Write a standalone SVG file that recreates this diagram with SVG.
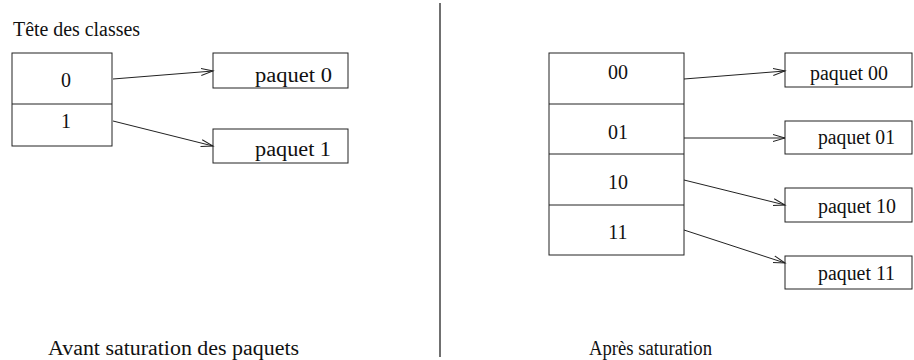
<svg xmlns="http://www.w3.org/2000/svg" width="914" height="360" viewBox="0 0 914 360">
<style>
text{font-family:"Liberation Serif","Times New Roman",serif;font-size:20px;fill:#111}
.box{fill:#fff;stroke:#222;stroke-width:1}
.conn{stroke:#222;stroke-width:1;fill:none;marker-end:url(#arr)}
.c{text-anchor:middle}
</style>
<defs>
<marker id="arr" markerWidth="14" markerHeight="10" refX="12" refY="5" orient="auto" markerUnits="userSpaceOnUse">
<path d="M0,1.5 L12,5 L0,8.5" fill="none" stroke="#222" stroke-width="1"/>
</marker>
</defs>
<rect width="914" height="360" fill="#fff"/>
<line x1="440" y1="3" x2="440" y2="357" stroke="#707070" stroke-width="2"/>
<text id="title" x="13" y="36" textLength="127" lengthAdjust="spacingAndGlyphs">Tête des classes</text>
<g id="left-table">
<rect class="box" x="12" y="53" width="100" height="93"/>
<line x1="12" y1="104" x2="112" y2="104" stroke="#222"/>
<text class="c" x="66" y="87">0</text>
<text class="c" x="66" y="128">1</text>
</g>
<g id="lp0"><rect class="box" x="213" y="53" width="135" height="35"/><text x="255" y="82" textLength="77" lengthAdjust="spacingAndGlyphs">paquet 0</text></g>
<g id="lp1"><rect class="box" x="213" y="129" width="135" height="34"/><text x="255" y="156" textLength="76" lengthAdjust="spacingAndGlyphs">paquet 1</text></g>
<g id="right-table">
<rect class="box" x="549" y="53" width="135" height="202"/>
<line x1="549" y1="104" x2="684" y2="104" stroke="#222"/>
<line x1="549" y1="154" x2="684" y2="154" stroke="#222"/>
<line x1="549" y1="205" x2="684" y2="205" stroke="#222"/>
<text class="c" x="618" y="79">00</text>
<text class="c" x="618" y="139">01</text>
<text class="c" x="618" y="189">10</text>
<text class="c" x="618" y="239">11</text>
</g>
<g id="rp00"><rect class="box" x="785" y="53" width="127" height="34"/><text x="810" y="80" textLength="78" lengthAdjust="spacingAndGlyphs">paquet 00</text></g>
<g id="rp01"><rect class="box" x="785" y="121" width="127" height="33"/><text x="818" y="144" textLength="77" lengthAdjust="spacingAndGlyphs">paquet 01</text></g>
<g id="rp10"><rect class="box" x="785" y="188" width="127" height="34"/><text x="818" y="213" textLength="78" lengthAdjust="spacingAndGlyphs">paquet 10</text></g>
<g id="rp11"><rect class="box" x="785" y="256" width="127" height="33"/><text x="818" y="280" textLength="77" lengthAdjust="spacingAndGlyphs">paquet 11</text></g>
<g id="connectors">
<line class="conn" x1="113" y1="79" x2="213" y2="71"/>
<line class="conn" x1="113" y1="121" x2="213" y2="146"/>
<line class="conn" x1="684" y1="79" x2="785" y2="71"/>
<line class="conn" x1="684" y1="138" x2="785" y2="138"/>
<line class="conn" x1="684" y1="180" x2="785" y2="205"/>
<line class="conn" x1="684" y1="230" x2="785" y2="263"/>
</g>
<text id="cap-left" x="48" y="355" textLength="251" lengthAdjust="spacingAndGlyphs">Avant saturation des paquets</text>
<text id="cap-right" x="589" y="355" textLength="123" lengthAdjust="spacingAndGlyphs">Après saturation</text>
</svg>
